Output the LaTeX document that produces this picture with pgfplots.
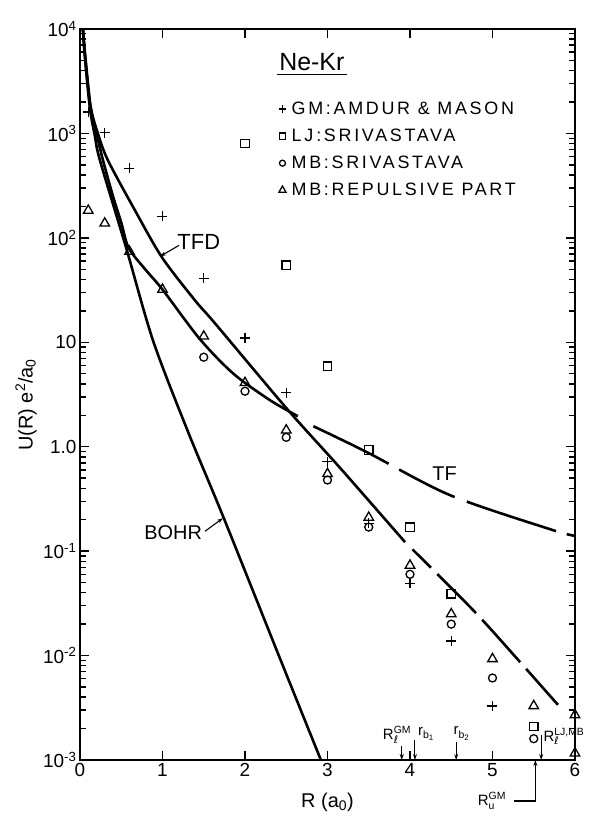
\documentclass[border=0pt]{standalone}
\usepackage{fontspec}
\setmainfont{Liberation Sans}
\newfontfamily\dejavu{DejaVu Sans}
\newfontfamily\lsp[LetterSpace=15]{Liberation Sans}
\usepackage{pgfplots}
\pgfplotsset{compat=1.18}
\usetikzlibrary{arrows.meta}
\newcommand\sups[1]{\raisebox{6bp}{\fontsize{10.5}{10}\selectfont #1}}
\newcommand\subs[1]{\raisebox{-3.5bp}{\fontsize{10.5}{10}\selectfont #1}}
\newcommand\supsub[2]{\setbox0\hbox{\sups{#1}}\setbox2\hbox{\subs{#2}}\ifdim\wd0>\wd2 \rlap{\box2}\box0 \else \rlap{\box0}\box2 \fi}
\begin{document}
\begin{tikzpicture}
\begin{axis}[
 scale only axis, width=495bp, height=731bp,
 xmin=0, xmax=6, ymin=1e-3, ymax=1e4, ymode=log,
 xtick={0,1,2,3,4,5,6}, xticklabels={0,1,2,3,4,5,6},
 ytick={1e-3,1e-2,1e-1,1,10,100,1000,10000},
 yticklabels={10\textsuperscript{-3},10\textsuperscript{-2},10\textsuperscript{-1},1.0,10,10\textsuperscript{2},10\textsuperscript{3},10\textsuperscript{4}},
 tick align=inside, major tick length=9bp, minor tick length=6bp,
 axis line style={line width=2bp},
 tick style={line width=1.4bp, black},
 tick label style={font=\fontsize{19}{19}\selectfont},
 xlabel={R (a\textsubscript{0})}, ylabel={U(R) e\textsuperscript{2}/a\textsubscript{0}},
 label style={font=\fontsize{20}{22}\selectfont},
 xlabel style={at={(axis description cs:0.5,-0.0575)}, anchor=center},
 ylabel style={at={(axis description cs:-0.109,0.486)}, anchor=center},
 clip=false,
 legend style={at={(0.395,0.905)}, anchor=north west, draw=none, fill=none,
   font=\lsp\fontsize{18}{20}\selectfont, row sep=10bp,
   nodes={inner sep=1.5bp},
   /tikz/every odd column/.append style={column sep=4bp}},
 legend cell align=left,
 legend image code/.code={\draw[#1, every mark/.append style={scale=0.75}] plot coordinates {(3bp,0bp)};},
]
% curves
\addplot[black, line width=2.6bp, smooth, forget plot] coordinates {
 (0.035,10000) (0.06,5300) (0.12,1750) (0.18,950) (0.242,552) (0.56,80)
 (0.885,10.4) (1.3,1.45) (1.74,0.21) (2.41,0.01) (2.92,0.001)};
\addplot[black, line width=2.6bp, smooth, forget plot] coordinates {
 (0.035,10000) (0.062,5400) (0.125,1800) (0.2,1000) (0.279,552) (0.40,250)
 (0.50,140) (0.59,80) (0.79,50) (1.0,32) (1.45,10.8) (1.86,5.0) (2.3,2.8) (2.64,1.96)};
\addplot[black, line width=2.6bp, smooth, forget plot,
 dash pattern=on 84bp off 12bp on 62bp off 13bp on 94bp off 11bp on 40bp off 20bp] coordinates {
 (2.83,1.57) (3.48,0.885) (4.48,0.345) (5.70,0.162) (6.0,0.14)};
\addplot[black, line width=2.6bp, smooth, forget plot] coordinates {
 (0.035,10000) (0.065,5400) (0.13,1800) (0.22,980) (0.339,552) (0.667,183)
 (0.994,65) (1.394,25.2) (1.636,15.2) (2.51,2.3) (3.15,0.63) (3.94,0.122)};
\addplot[black, line width=2.6bp, smooth, forget plot,
 dash pattern=on 26bp off 9bp on 55bp off 9bp on 57bp off 9bp on 48bp off 20bp] coordinates {
 (4.03,0.104) (4.77,0.027) (5.3,0.0093) (5.82,0.0032) (5.95,0.0025)};
% data
\addplot[only marks, mark=+, mark size=5bp, black, line width=1.4bp] coordinates {
 (0.1,1600) (0.3,1020) (0.6,462) (1.0,161) (1.5,41) (2.0,11) (2.5,3.3)
 (3.0,0.72) (3.5,0.185) (4.0,0.049) (4.5,0.0138) (5.0,0.0033)};
\addlegendentry{GM:AMDUR \& MASON}
\addplot[only marks, mark=square, mark size=4.2bp, black, line width=1.3bp] coordinates {
 (2.0,802) (2.5,54.6) (3.0,5.9) (3.5,0.93) (4.0,0.17) (4.5,0.039) (5.5,0.0021)};
\addlegendentry{LJ\,:SRIVASTAVA}
\addplot[only marks, mark=o, mark size=4bp, black, line width=1.3bp] coordinates {
 (1.5,7.2) (2.0,3.4) (2.5,1.23) (3.0,0.48) (3.5,0.17) (4.0,0.06) (4.5,0.02)
 (5.0,0.0061) (5.5,0.0016)};
\addlegendentry{MB:SRIVASTAVA}
\addplot[only marks, mark=triangle, mark size=5.5bp, black, line width=1.3bp] coordinates {
 (0.1,183) (0.3,138) (0.6,74) (1.0,32) (1.5,11.4) (2.0,4.1) (2.5,1.44)
 (3.0,0.55) (3.5,0.21) (4.0,0.073) (4.5,0.025) (5.0,0.0093) (5.5,0.0033)
 (6.0,0.0027) (6.0,0.00116)};
\addlegendentry{MB:REPULSIVE PART}
% title
\node[font=\fontsize{25}{25}\selectfont, inner sep=2bp] (ttl) at (axis cs:2.81,4775) {Ne-Kr};
\draw[line width=1.8bp] ([yshift=-1bp]ttl.south west) -- ([yshift=-1bp]ttl.south east);
% curve labels
\node[font=\fontsize{22}{22}\selectfont] at (axis cs:1.44,90.6) {TFD};
\draw[-{Stealth[length=6bp,width=4bp]}, line width=1.1bp] (axis cs:1.2,84.7) -- (axis cs:0.97,66.5);
\node[font=\fontsize{20}{20}\selectfont] at (axis cs:1.13,0.152) {BOHR};
\draw[-{Stealth[length=6bp,width=4bp]}, line width=1.1bp] (axis cs:1.515,0.155) -- (axis cs:1.733,0.207);
\node[font=\fontsize{20}{20}\selectfont] at (axis cs:4.42,0.557) {TF};
% bottom markers
\draw[-{Stealth[length=6bp,width=4bp]}, line width=1.1bp] (axis cs:3.9,0.00136) -- (axis cs:3.9,0.001);
\node[anchor=south, font=\fontsize{15}{15}\selectfont, inner sep=0.5bp] at (axis cs:3.84,0.00142) {R\supsub{GM}{\dejavu ℓ}};
\draw[-{Stealth[length=6bp,width=4bp]}, line width=1.1bp] (axis cs:4.06,0.00155) -- (axis cs:4.06,0.001);
\node[anchor=south west, font=\fontsize{15}{15}\selectfont, inner sep=0.5bp] at (axis cs:4.09,0.00150) {r\subs{b\raisebox{-2bp}{\fontsize{8}{8}\selectfont 1}}};
\draw[-{Stealth[length=6bp,width=4bp]}, line width=1.1bp] (axis cs:4.56,0.00148) -- (axis cs:4.56,0.001);
\node[anchor=south, font=\fontsize{15}{15}\selectfont, inner sep=0.5bp] at (axis cs:4.62,0.00152) {r\subs{b\raisebox{-2bp}{\fontsize{8}{8}\selectfont 2}}};
\draw[-{Stealth[length=6bp,width=4bp]}, line width=1.1bp] (axis cs:5.59,0.00173) -- (axis cs:5.59,0.001);
\node[anchor=west, font=\fontsize{15}{15}\selectfont, inner sep=0.5bp] at (axis cs:5.61,0.00168) {R\supsub{LJ,MB}{\dejavu ℓ}};
\node[font=\fontsize{15}{15}\selectfont, inner sep=0.5bp] at (axis cs:4.99,0.000405) {R\supsub{GM}{u}};
\draw[-{Stealth[length=6bp,width=4bp]}, line width=1.1bp] (axis cs:5.26,0.000405) -- (axis cs:5.52,0.000405) -- (axis cs:5.52,0.001);
\end{axis}
\path (current axis.south west) ++(-80bp,-59bp);
\path (current axis.north east) ++(17bp,29bp);
\end{tikzpicture}
\end{document}
